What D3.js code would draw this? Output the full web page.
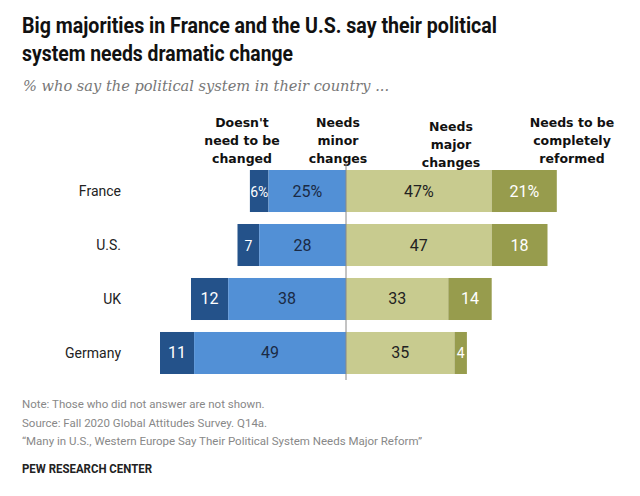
<!DOCTYPE html>
<html><head><meta charset="utf-8">
<script src="https://cdn.jsdelivr.net/npm/d3@7"></script>
<style>body{margin:0;background:#fff}svg{display:block}</style>
</head><body>
<svg id="c" width="640" height="496"></svg>
<script>
const countries = ["France", "U.S.", "UK", "Germany"];
const noChange = [6, 7, 12, 11];
const minor = [25, 28, 38, 49];
const major = [47, 47, 33, 35];
const reform = [21, 18, 14, 4];
const headers = [
  ["Doesn't", "need to be", "changed"],
  ["Needs", "minor", "changes"],
  ["Needs", "major", "changes"],
  ["Needs to be", "completely", "reformed"]
];
const colors = ["#24528a", "#5290d6", "#c8cb8f", "#979c4d"];
const textColors = ["#ffffff", "#1a2a44", "#222222", "#ffffff"];

const svg = d3.select("#c");
const x = d3.scaleLinear().domain([-60, 70]).range([346 - 60 * 3.1, 346 + 70 * 3.1]);
const y = d3.scaleBand().domain(countries).range([170, 374]).paddingInner(0.222).paddingOuter(0);

// title
const title = svg.append("text").attr("font-family", "Roboto, 'Liberation Sans', sans-serif")
  .attr("font-weight", "bold").attr("font-size", 22).attr("fill", "#111");
title.append("tspan").attr("x", 22).attr("y", 33).attr("textLength", 475).attr("lengthAdjust", "spacingAndGlyphs")
  .text("Big majorities in France and the U.S. say their political");
title.append("tspan").attr("x", 22).attr("y", 61).attr("textLength", 271).attr("lengthAdjust", "spacingAndGlyphs")
  .text("system needs dramatic change");
svg.append("text").attr("x", 23).attr("y", 91).attr("font-family", "'DejaVu Serif', serif").attr("font-style", "italic")
  .attr("font-size", 14.6).attr("fill", "#777").text("% who say the political system in their country ...");

// headers
const hx = [242, 338, 451, 572];
const hy = [127, 127, 131, 127];
headers.forEach((lines, i) => {
  const t = svg.append("text").attr("text-anchor", "middle").attr("font-family", "'DejaVu Sans', sans-serif")
    .attr("font-weight", "bold").attr("font-size", 12.5).attr("fill", "#111");
  lines.forEach((l, j) => t.append("tspan").attr("x", hx[i]).attr("y", hy[i] + j * 18).text(l));
});

// segments
const rows = countries.map((c, i) => {
  const segs = [];
  segs.push({k: 0, x0: -(minor[i] + noChange[i]), x1: -minor[i], v: noChange[i]});
  segs.push({k: 1, x0: -minor[i], x1: 0, v: minor[i]});
  segs.push({k: 2, x0: 0, x1: major[i], v: major[i]});
  segs.push({k: 3, x0: major[i], x1: major[i] + reform[i], v: reform[i]});
  return {c, i, segs};
});

const g = svg.append("g");
rows.forEach(r => {
  const gy = y(r.c);
  r.segs.forEach(s => {
    g.append("rect").attr("x", x(s.x0)).attr("y", gy).attr("width", x(s.x1) - x(s.x0)).attr("height", y.bandwidth())
      .attr("fill", colors[s.k]);
    g.append("text").attr("x", (x(s.x0) + x(s.x1)) / 2).attr("y", gy + y.bandwidth() / 2 + 5.5)
      .attr("text-anchor", "middle").attr("font-family", "Roboto, 'Liberation Sans', sans-serif")
      .attr("font-size", s.v < 10 ? 14 : 16).attr("fill", textColors[s.k])
      .text(s.v + (r.i === 0 ? "%" : ""));
  });
  svg.append("text").attr("x", 121).attr("y", gy + y.bandwidth() / 2 + 5).attr("text-anchor", "end")
    .attr("font-family", "Roboto, 'Liberation Sans', sans-serif").attr("font-size", 14).attr("fill", "#222").text(r.c);
});

svg.append("line").attr("x1", x(0)).attr("x2", x(0)).attr("y1", 163).attr("y2", 380)
  .attr("stroke", "#888").attr("stroke-width", 1);

// notes
const notes = ["Note: Those who did not answer are not shown.",
  "Source: Fall 2020 Global Attitudes Survey. Q14a.",
  "\u201cMany in U.S., Western Europe Say Their Political System Needs Major Reform\u201d"];
notes.forEach((n, i) => svg.append("text").attr("x", 22).attr("y", 408 + i * 18.5)
  .attr("font-family", "Roboto, 'Liberation Sans', sans-serif").attr("font-size", 11.5).attr("fill", "#888").text(n));
svg.append("text").attr("x", 22).attr("y", 473).attr("font-family", "Roboto, 'Liberation Sans', sans-serif")
  .attr("font-weight", "bold").attr("font-size", 13).attr("fill", "#222")
  .attr("textLength", 130).attr("lengthAdjust", "spacingAndGlyphs").text("PEW RESEARCH CENTER");
</script>
</body></html>
